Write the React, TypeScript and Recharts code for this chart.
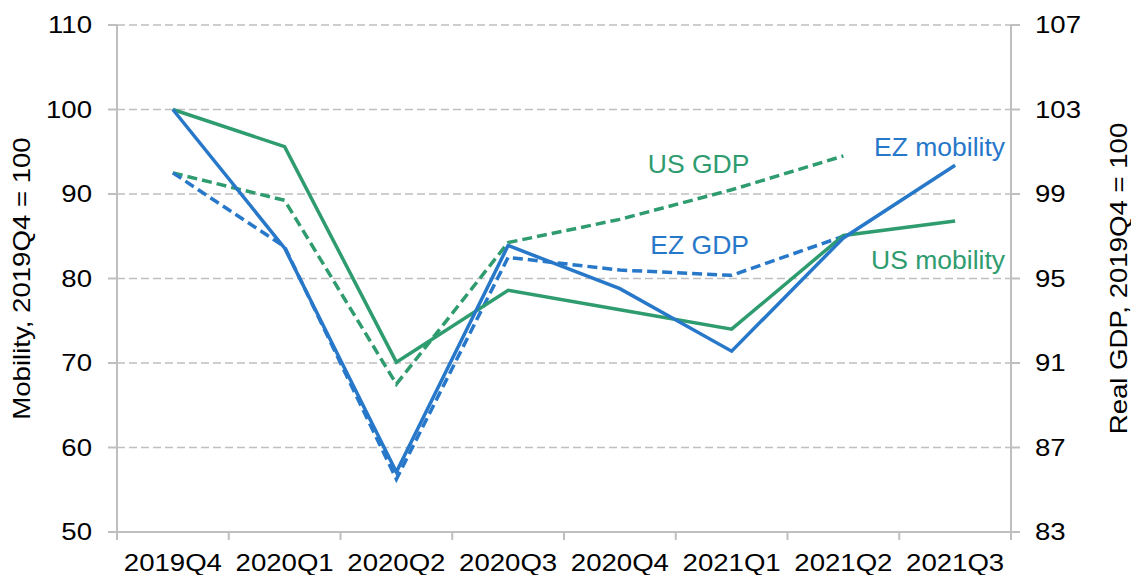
import { LineChart, Line, XAxis, YAxis, CartesianGrid, LabelList } from "recharts";

const BLUE = "#2878CA";
const GREEN = "#2F9C6F";
const GREY = "#BFBFBF";
const FONT = "'Liberation Sans', Arial, sans-serif";

const categories = ["2019Q4", "2020Q1", "2020Q2", "2020Q3", "2020Q4", "2021Q1", "2021Q2", "2021Q3"];
const ezMobility = [100, 83.6, 57.1, 83.9, 78.8, 71.4, 84.8, 93.4];
const usMobility = [100, 95.6, 70.1, 78.6, 76.3, 74.0, 85.1, 86.8];
const usGdp = [100, 98.7, 90.0, 96.7, 97.8, 99.2, 100.8, null];
const ezGdp = [100, 96.5, 85.5, 96.0, 95.4, 95.15, 97.0, null];

const leftTicks = [50, 60, 70, 80, 90, 100, 110];
const rightTicks = [83, 87, 91, 95, 99, 103, 107];
// category centres plus the band edges (tick marks sit on the edges)
const xTicks = categories.flatMap((_, i) => (i === 0 ? [-0.5, 0, 0.5] : [i, i + 0.5]));

const rows = categories.map((c, i) => ({
  idx: i,
  name: c,
  ezMobility: ezMobility[i],
  usMobility: usMobility[i],
  usGdp: usGdp[i],
  ezGdp: ezGdp[i],
}));

const XTick = ({ x, y, payload }: any) => {
  const v = payload.value;
  if (!Number.isInteger(v)) {
    return <line x1={x} y1={y} x2={x} y2={y + 8} stroke={GREY} strokeWidth={2} />;
  }
  return (
    <text
      transform={`translate(${x},${y + 39}) scale(1.2,1)`}
      textAnchor="middle"
      fontSize={23}
      fontFamily={FONT}
      fill="#000"
    >
      {categories[v]}
    </text>
  );
};

const YTick = ({ x, y, payload, anchor }: any) => (
  <text
    transform={`translate(${x},${y + 8}) scale(1.2,1)`}
    textAnchor={anchor}
    fontSize={23}
    fontFamily={FONT}
    fill="#000"
  >
    {payload.value}
  </text>
);

const axisTitle = (text: string, dx: number) => ({ viewBox }: any) => {
  const cx = viewBox.x + dx;
  const cy = viewBox.y + viewBox.height / 2;
  return (
    <text
      transform={`translate(${cx},${cy}) rotate(-90) scale(1.2,1)`}
      textAnchor="middle"
      dominantBaseline="central"
      fontSize={23}
      fontFamily={FONT}
      fill="#000"
    >
      {text}
    </text>
  );
};

const note =
  (at: number, text: string, color: string, dx: number, dy: number, anchor: string) =>
  (props: any) => {
    if (props.index !== at) return null;
    return (
      <text
        x={props.x + dx}
        y={props.y + dy}
        textAnchor={anchor}
        fontSize={26.5}
        fontFamily={FONT}
        fill={color}
      >
        {text}
      </text>
    );
  };

export default function App() {
  return (
    <div style={{ position: "absolute", left: 0, top: 0, background: "#fff" }}>
      <LineChart width={1131} height={575} data={rows} margin={{ top: 25, right: 0, bottom: 0, left: 0 }}>
        <CartesianGrid yAxisId="left" vertical={false} stroke={GREY} strokeDasharray="8 4" strokeWidth={1.5} />
        <XAxis
          dataKey="idx"
          type="number"
          domain={[-0.5, 7.5]}
          ticks={xTicks}
          interval={0}
          height={43}
          tickSize={0}
          tickMargin={0}
          tickLine={false}
          axisLine={{ stroke: GREY, strokeWidth: 2 }}
          tick={<XTick />}
        />
        <YAxis
          yAxisId="left"
          domain={[50, 110]}
          ticks={leftTicks}
          interval={0}
          width={117}
          tickSize={9}
          tickMargin={16}
          tickLine={{ stroke: GREY, strokeWidth: 2 }}
          axisLine={{ stroke: GREY, strokeWidth: 2 }}
          tick={<YTick anchor="end" />}
          label={{ content: axisTitle("Mobility, 2019Q4 = 100", 22) }}
        />
        <YAxis
          yAxisId="right"
          orientation="right"
          domain={[83, 107]}
          ticks={rightTicks}
          interval={0}
          width={120}
          tickSize={9}
          tickMargin={15}
          tickLine={{ stroke: GREY, strokeWidth: 2 }}
          axisLine={{ stroke: GREY, strokeWidth: 2 }}
          tick={<YTick anchor="start" />}
          label={{ content: axisTitle("Real GDP, 2019Q4 = 100", 108) }}
        />
        <Line
          yAxisId="right"
          dataKey="usGdp"
          stroke={GREEN}
          strokeWidth={3.5}
          strokeDasharray="10 5"
          dot={false}
          isAnimationActive={false}
        >
          <LabelList dataKey="usGdp" content={note(5, "US GDP", GREEN, -33, -17, "middle")} />
        </Line>
        <Line
          yAxisId="right"
          dataKey="ezGdp"
          stroke={BLUE}
          strokeWidth={3.5}
          strokeDasharray="10 5"
          dot={false}
          isAnimationActive={false}
        >
          <LabelList dataKey="ezGdp" content={note(5, "EZ GDP", BLUE, -32, -21, "middle")} />
        </Line>
        <Line
          yAxisId="left"
          dataKey="usMobility"
          stroke={GREEN}
          strokeWidth={3.5}
          dot={false}
          isAnimationActive={false}
        >
          <LabelList dataKey="usMobility" content={note(7, "US mobility", GREEN, 50, 48, "end")} />
        </Line>
        <Line
          yAxisId="left"
          dataKey="ezMobility"
          stroke={BLUE}
          strokeWidth={3.5}
          dot={false}
          isAnimationActive={false}
        >
          <LabelList dataKey="ezMobility" content={note(7, "EZ mobility", BLUE, 50, -9, "end")} />
        </Line>
      </LineChart>
    </div>
  );
}
